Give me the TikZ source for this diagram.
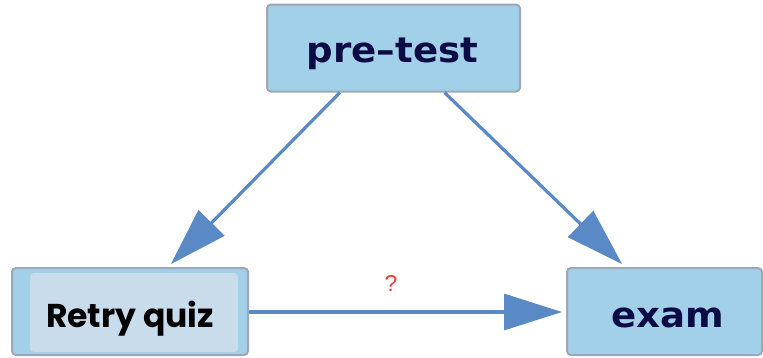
\documentclass[tikz,border=0pt]{standalone}
\usepackage{fontspec}
\usetikzlibrary{arrows.meta,calc}
\newfontfamily\boxfont{DejaVu Sans}
\newfontfamily\quizfont{Poppins}
\newfontfamily\qfont{Liberation Sans}
\definecolor{boxfill}{HTML}{A3D0E9}
\definecolor{innerfill}{HTML}{C8DCEB}
\definecolor{boxborder}{HTML}{9EA7B3}
\definecolor{arrowcol}{HTML}{5A8AC6}
\definecolor{navytext}{HTML}{0B0B45}
\definecolor{qred}{HTML}{F23A3A}
\tikzset{
  boxnode/.style={draw=boxborder, line width=2pt, fill=boxfill, rounded corners=4pt,
    inner sep=0pt, minimum height=87pt},
  boxtext/.style={text=navytext, inner sep=0pt, anchor=base,
    font=\boxfont\bfseries\fontsize{35}{40}\selectfont},
  conn/.style={draw=arrowcol, line width=3.2pt,
    -{Triangle[length=58pt,width=36pt]}, shorten >=4pt},
}
\begin{document}
\begin{tikzpicture}[x=1pt,y=-1pt]
\useasboundingbox (0,0) rectangle (763,357);
\node[boxnode, minimum width=253pt] (pre) at (393.5,48) {};
\node[boxtext] (pretxt) at (392.5,62) {\scalebox{1.06}[1]{pre–test}};
\node[boxnode, minimum width=236pt,
  path picture={\fill[innerfill] ([xshift=18pt,yshift=-5pt]path picture bounding box.north west) rectangle ([xshift=-10pt,yshift=3pt]path picture bounding box.south east);}] (quiz) at (130,311.5) {};
\node[text=black, inner sep=0pt, anchor=base, font=\quizfont\bfseries\fontsize{33}{38}\selectfont] (quiztxt) at (130,327) {Retry quiz};
\node[boxnode, minimum width=195pt] (exam) at (664.5,311.5) {};
\node[boxtext] (examtxt) at (668,327) {\scalebox{1.06}[1]{exam}};
\node[text=qred, inner sep=0pt, font=\qfont\fontsize{23}{25}\selectfont] (q) at (391,283) {?};
\draw[conn] ($(pre.south west)!0.29!(pre.south east)$) -- ($(quiz.north west)!0.66!(quiz.north east)$);
\draw[conn] ($(pre.south west)!0.70!(pre.south east)$) -- ($(exam.north west)!0.30!(exam.north east)$);
\draw[conn] ($(quiz.east)+(0,0.5)$) -- ($(exam.west)+(0,0.5)$);
\end{tikzpicture}
\end{document}
